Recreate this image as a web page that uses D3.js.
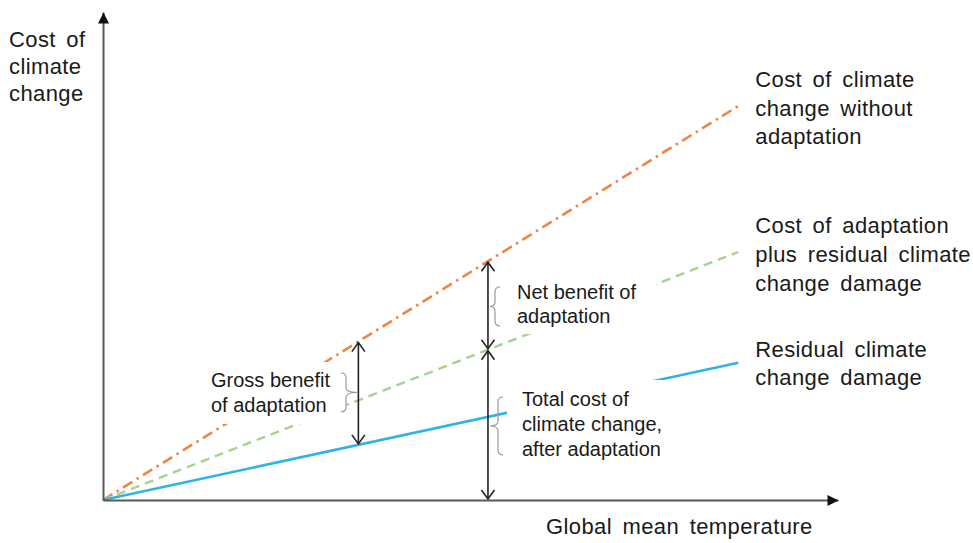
<!DOCTYPE html>
<html><head><meta charset="utf-8">
<script src="https://cdn.jsdelivr.net/npm/d3@7"></script>
<style>html,body{margin:0;padding:0;background:#fff;} svg{display:block;}</style>
</head><body><svg id="chart" width="973" height="543"></svg>
<script>
// ---- data ----
const temperature = [0, 1];
const costWithoutAdaptation = [0, 9.85];
const costAdaptationPlusResidual = [0, 6.2];
const residualDamage = [0, 3.43];
const axisMaxX = 1.157, axisMaxY = 12.2;
const grossAt = 0.402, netAt = 0.606;
const seriesNames = [
  ["Cost of climate", "change without", "adaptation"],
  ["Cost of adaptation", "plus residual climate", "change damage"],
  ["Residual climate", "change damage"]
];
const yTitle = ["Cost of", "climate", "change"];
const xTitle = "Global mean temperature";
const grossText = ["Gross benefit", "of adaptation"];
const netText = ["Net benefit of", "adaptation"];
const totalText = ["Total cost of", "climate change,", "after adaptation"];

// ---- layout ----
const svg = d3.select("#chart");
const FONT = "Arial, 'Liberation Sans', sans-serif";
const x = d3.scaleLinear().domain([0, axisMaxX]).range([103, 838]);
const y = d3.scaleLinear().domain([0, axisMaxY]).range([500, 12]);

const defs = svg.append("defs");
defs.append("marker").attr("id", "axisHead").attr("viewBox", "-12 -6 14 12")
  .attr("markerUnits", "userSpaceOnUse").attr("markerWidth", 14).attr("markerHeight", 12)
  .attr("refX", 0).attr("refY", 0).attr("orient", "auto")
  .append("path").attr("d", "M-11,-5.5L0,0L-11,5.5Z").attr("fill", "#111");
defs.append("marker").attr("id", "vHead").attr("viewBox", "-12 -8 14 16")
  .attr("markerUnits", "userSpaceOnUse").attr("markerWidth", 14).attr("markerHeight", 16)
  .attr("refX", 0).attr("refY", 0).attr("orient", "auto-start-reverse")
  .append("path").attr("d", "M-9,-6.5L0,0L-9,6.5").attr("fill", "none")
  .attr("stroke", "#222").attr("stroke-width", 1.6);

// series lines
const series = [
  {vals: costWithoutAdaptation, color: "#ef8448", dash: "11,5,2.5,5", w: 2.6},
  {vals: costAdaptationPlusResidual, color: "#a9d18e", dash: "9,6", w: 2.4},
  {vals: residualDamage, color: "#2fb2e6", dash: null, w: 2.6}
];
const line = d3.line().x(d => x(d[0])).y(d => y(d[1]));
series.forEach(s => {
  svg.append("path").datum(temperature.map((t, i) => [t, s.vals[i]]))
    .attr("d", line).attr("fill", "none").attr("stroke", s.color)
    .attr("stroke-width", s.w).attr("stroke-dasharray", s.dash);
});

// axes
const gx = svg.append("g").attr("transform", `translate(0,${y(0)})`)
  .call(d3.axisBottom(x).tickValues([]).tickSizeOuter(0));
const gy = svg.append("g").attr("transform", `translate(${x(0)},0)`)
  .call(d3.axisLeft(y).tickValues([]).tickSizeOuter(0));
[gx, gy].forEach(g => g.select(".domain").attr("stroke", "#595959").attr("stroke-width", 2)
  .attr("marker-end", "url(#axisHead)"));

// white text boxes (occlude lines like the original text boxes)
const boxes = [[205, 362, 141, 62], [510, 275, 146, 59], [507, 380, 165, 82]];
boxes.forEach(b => svg.append("rect").attr("x", b[0]).attr("y", b[1])
  .attr("width", b[2]).attr("height", b[3]).attr("fill", "#fff"));

const val = (arr, t) => d3.scaleLinear().domain(temperature).range(arr)(t);

function textBlock(lines, x0, y0, dy, size, extra) {
  const t = svg.append("text").attr("font-family", FONT).attr("font-size", size)
    .attr("fill", "#1a1a1a").attr("style", extra || "");
  lines.forEach((l, i) => t.append("tspan").attr("x", x0).attr("y", y0 + i * dy).text(l));
}
const bigStyle = "word-spacing:4px;letter-spacing:0.4px;";
textBlock(yTitle, 9, 47, 27, 22, bigStyle);
svg.append("text").attr("x", 546).attr("y", 534).attr("font-family", FONT)
  .attr("font-size", 22).attr("fill", "#1a1a1a").attr("style", bigStyle).text(xTitle);
textBlock(seriesNames[0], x(1) + 17, 87, 28.5, 22, bigStyle);
textBlock(seriesNames[1], x(1) + 17, 233, 29, 22, bigStyle);
textBlock(seriesNames[2], x(1) + 17, 357, 28, 22, bigStyle);

textBlock(grossText, 211, 387, 25, 20);
textBlock(netText, 517, 299, 24, 20);
textBlock(totalText, 522, 406, 25, 20);

// braces
function brace(xEdge, xTip, y1, y2, dir) {
  const ym = (y1 + y2) / 2, xm = xEdge + dir * 5, r = 5;
  const p = `M${xEdge},${y1} Q${xm},${y1} ${xm},${y1 + r} L${xm},${ym - r} Q${xm},${ym} ${xTip},${ym}`
    + ` Q${xm},${ym} ${xm},${ym + r} L${xm},${y2 - r} Q${xm},${y2} ${xEdge},${y2}`;
  svg.append("path").attr("d", p).attr("fill", "none").attr("stroke", "#9a9a9a").attr("stroke-width", 1.2);
}
brace(341, 357, 373, 412, 1);
brace(500, 490, 287, 326, -1);
brace(503, 490, 397, 455, -1);

// double-headed arrows
function dArrow(t, v1, v2) {
  svg.append("line").attr("x1", x(t)).attr("x2", x(t)).attr("y1", y(v1) - 1).attr("y2", y(v2) + 1)
    .attr("stroke", "#222").attr("stroke-width", 1.6)
    .attr("marker-start", "url(#vHead)").attr("marker-end", "url(#vHead)");
}
dArrow(grossAt, val(residualDamage, grossAt), val(costWithoutAdaptation, grossAt));
dArrow(netAt, val(costAdaptationPlusResidual, netAt), val(costWithoutAdaptation, netAt));
dArrow(netAt, 0, val(costAdaptationPlusResidual, netAt));
</script></body></html>
